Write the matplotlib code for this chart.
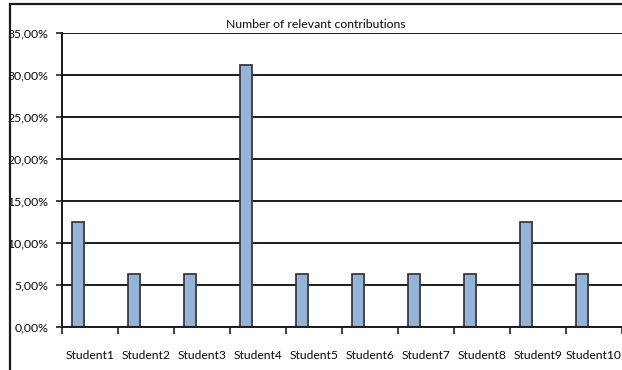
import matplotlib
matplotlib.use("Agg")
import matplotlib.pyplot as plt
from matplotlib.lines import Line2D
from matplotlib.ticker import FuncFormatter
import numpy as np

students = ["Student1", "Student2", "Student3", "Student4", "Student5",
            "Student6", "Student7", "Student8", "Student9", "Student10"]
shares = [12.5, 6.25, 6.25, 31.25, 6.25, 6.25, 6.25, 6.25, 12.5, 6.25]
yticks = [0, 5, 10, 15, 20, 25, 30, 35]
title = "Number of relevant contributions"

plt.rcParams["font.family"] = ["Lato", "DejaVu Sans"]

fig = plt.figure(figsize=(6.22, 3.70), dpi=100)
ax = fig.add_axes([62 / 622, 43.3 / 370, 1 - 62 / 622, 293.4 / 370])

x = np.arange(len(students))
# bars sit left of the category centre, like an excel clustered column
ax.bar(x - 0.22, shares, width=0.22, color="#95b3d7", edgecolor="#3a3a3a",
       linewidth=1.3, zorder=3)

ax.set_xlim(-0.5, len(students) - 0.5)
ax.set_ylim(0, 35)
ax.set_yticks(yticks)
ax.yaxis.set_major_formatter(FuncFormatter(lambda v, p: f"{v:.2f}%".replace(".", ",")))
ax.set_xticks(x)
ax.set_xticklabels(students)
ax.set_xticks(np.arange(len(students) + 1) - 0.5, minor=True)
ax.tick_params(axis="x", which="major", length=0, pad=17, labelsize=8.7, colors="#0a0a0a")
ax.tick_params(axis="x", which="minor", length=5, width=1.2, color="#222222", direction="out")
ax.tick_params(axis="y", length=4, width=1.2, color="#222222", pad=6, labelsize=8.8,
               labelcolor="#0a0a0a")

ax.grid(axis="y", color="#1a1a1a", linewidth=1.4, zorder=0)
for s in ["top", "right"]:
    ax.spines[s].set_visible(False)
ax.spines["left"].set_linewidth(1.4)
ax.spines["left"].set_color("#1a1a1a")
ax.spines["bottom"].set_linewidth(1.4)
ax.spines["bottom"].set_color("#1a1a1a")
ax.spines["bottom"].set_zorder(4)

fig.text(316 / 622, 1 - 24 / 370, title, ha="center", va="center", fontsize=8.8,
         color="#0a0a0a")

# outer chart frame
fig.add_artist(Line2D([10 / 622, 1], [1 - 4 / 370, 1 - 4 / 370], color="#1a1a1a", lw=1.6))
fig.add_artist(Line2D([10 / 622, 10 / 622], [0, 1 - 4 / 370], color="#1a1a1a", lw=1.6))

fig.savefig("out.png", dpi=100)
